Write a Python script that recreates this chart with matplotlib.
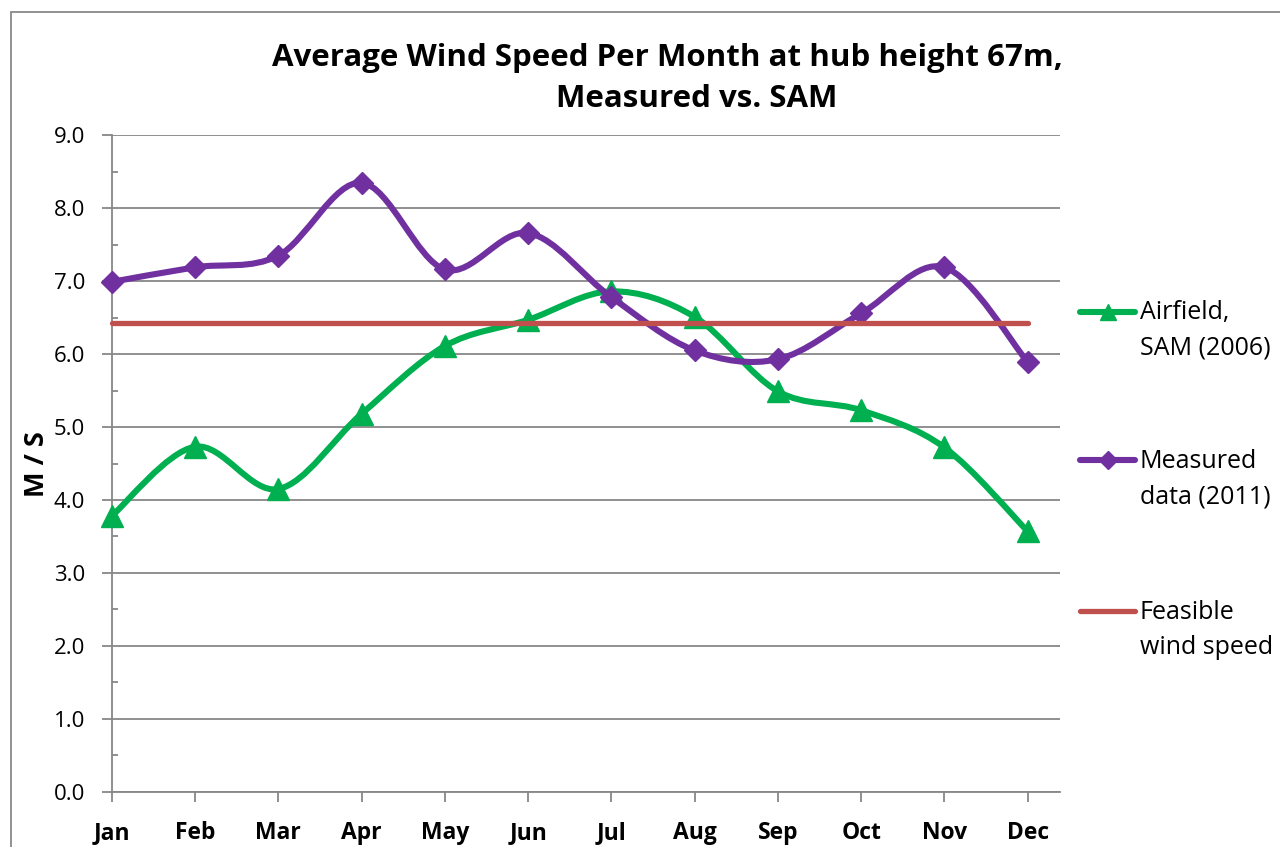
import matplotlib
matplotlib.use("Agg")
import matplotlib.pyplot as plt
from matplotlib.path import Path
from matplotlib.patches import PathPatch, Rectangle
from matplotlib.lines import Line2D
import numpy as np

# ---------------- data ----------------
months = ["Jan", "Feb", "Mar", "Apr", "May", "Jun", "Jul", "Aug", "Sep", "Oct", "Nov", "Dec"]
airfield_sam_2006 = [3.78, 4.73, 4.15, 5.18, 6.11, 6.47, 6.86, 6.51, 5.49, 5.23, 4.72, 3.57]
measured_2011 = [6.99, 7.19, 7.35, 8.35, 7.16, 7.66, 6.78, 6.05, 5.93, 6.56, 7.19, 5.89]
feasible_wind_speed = [6.43] * 12
y_ticks = [0, 1, 2, 3, 4, 5, 6, 7, 8, 9]
title_lines = ["Average Wind Speed Per Month at hub height 67m,", "Measured vs. SAM"]
y_label = "M / S"
legend_labels = [["Airfield,", "SAM (2006)"], ["Measured", "data (2011)"], ["Feasible", "wind speed"]]

# ---------------- style ----------------
GREEN = "#00B050"
PURPLE = "#7030A0"
RED = "#C0504D"
GRID = "#878787"
FONT = "Open Sans"
plt.rcParams["font.family"] = [FONT, "DejaVu Sans"]

W, H = 1280, 847
fig = plt.figure(figsize=(W / 100, H / 100), dpi=100)


def fx(px):
    return px / W


def fy(py):
    return 1 - py / H


ax_left, ax_right, ax_top, ax_bottom = 111.7, 1060, 135.3, 791.7
ax = fig.add_axes([fx(ax_left), fy(ax_bottom), fx(ax_right - ax_left), (ax_bottom - ax_top) / H])

x = np.arange(len(months))
unit = (1027.7 - ax_left) / 11.0
ax.set_xlim(0, (ax_right - ax_left) / unit)
ax.set_ylim(0, 9)


def smooth_path(xs, ys):
    pts = np.column_stack([xs, ys]).astype(float)
    n = len(pts)
    verts = [pts[0]]
    codes = [Path.MOVETO]
    for i in range(n - 1):
        p0 = pts[i - 1] if i > 0 else pts[i]
        p1 = pts[i]
        p2 = pts[i + 1]
        p3 = pts[i + 2] if i + 2 < n else pts[i + 1]
        c1 = p1 + (p2 - p0) / 6.0
        c2 = p2 - (p3 - p1) / 6.0
        verts += [c1, c2, p2]
        codes += [Path.CURVE4] * 3
    return Path(verts, codes)


# green series
ax.add_patch(PathPatch(smooth_path(x, airfield_sam_2006), fill=False, edgecolor=GREEN,
                       lw=4.4, capstyle="round", joinstyle="round", zorder=3, clip_on=False))
ax.plot(x, airfield_sam_2006, ls="none", marker="^", ms=16, color=GREEN, mec=GREEN, mew=1,
        zorder=3.1, clip_on=False)
# purple series
ax.add_patch(PathPatch(smooth_path(x, measured_2011), fill=False, edgecolor=PURPLE,
                       lw=4.4, capstyle="round", joinstyle="round", zorder=4, clip_on=False))
ax.plot(x, measured_2011, ls="none", marker="D", ms=11.5, color=PURPLE, mec=PURPLE, mew=1,
        zorder=4.1, clip_on=False)
# red line
ax.plot(x, feasible_wind_speed, color=RED, lw=3.8, solid_capstyle="round", zorder=5, clip_on=False)

# axes styling
for s in ["top", "right"]:
    ax.spines[s].set_visible(False)
for s in ["left", "bottom"]:
    ax.spines[s].set_color(GRID)
    ax.spines[s].set_linewidth(1.3)
ax.set_yticks(y_ticks)
ax.set_yticklabels([f"{v:.1f}" for v in y_ticks])
ax.set_yticks([v + 0.5 for v in y_ticks[:-1]], minor=True)
ax.set_xticks(x)
ax.set_xticklabels(months, fontweight="bold")
ax.tick_params(axis="y", which="major", direction="out", length=7, width=1.3, color=GRID,
               labelsize=16, pad=12, labelcolor="black")
ax.tick_params(axis="y", which="minor", direction="in", length=4, width=1.3, color=GRID)
ax.tick_params(axis="x", which="major", direction="out", length=7, width=1.3, color=GRID,
               labelsize=16.5, pad=14, labelcolor="black")
ax.yaxis.grid(True, which="major", color=GRID, lw=1.3)
ax.set_axisbelow(True)

# y label
fig.text(fx(37), fy(464), y_label, rotation=90, ha="center", va="center",
         fontsize=19.5, fontweight="bold")

# title
fig.text(fx(667), fy(66), title_lines[0], ha="center", va="baseline", fontsize=22.5, fontweight="bold")
fig.text(fx(697), fy(107), title_lines[1], ha="center", va="baseline", fontsize=22.5, fontweight="bold")

# legend (manual)
legend_y = [311.7, 460.0, 611.0]
legend_style = [(GREEN, "^", 4.4), (PURPLE, "D", 4.4), (RED, None, 3.8)]
for (color, mk, lw), yy, lab in zip(legend_style, legend_y, legend_labels):
    fig.add_artist(Line2D([fx(1080), fx(1135)], [fy(yy), fy(yy)], color=color, lw=lw,
                          solid_capstyle="round", transform=fig.transFigure))
    if mk is not None:
        fig.add_artist(Line2D([fx(1107.5)], [fy(yy)], marker=mk, ms=(12 if mk == "^" else 9.5),
                              color=color, mec=color, ls="none", transform=fig.transFigure))
    fig.text(fx(1140), fy(yy + 7.6), lab[0], ha="left", va="baseline", fontsize=18)
    fig.text(fx(1140), fy(yy + 7.6 + 35.5), lab[1], ha="left", va="baseline", fontsize=18)

# outer chart border
fig.add_artist(Rectangle((fx(11), -0.05), 1.2, fy(11.7) + 0.05, fill=False, edgecolor="#898989",
                         lw=1.3, transform=fig.transFigure))

fig.savefig("out.png", dpi=100)
